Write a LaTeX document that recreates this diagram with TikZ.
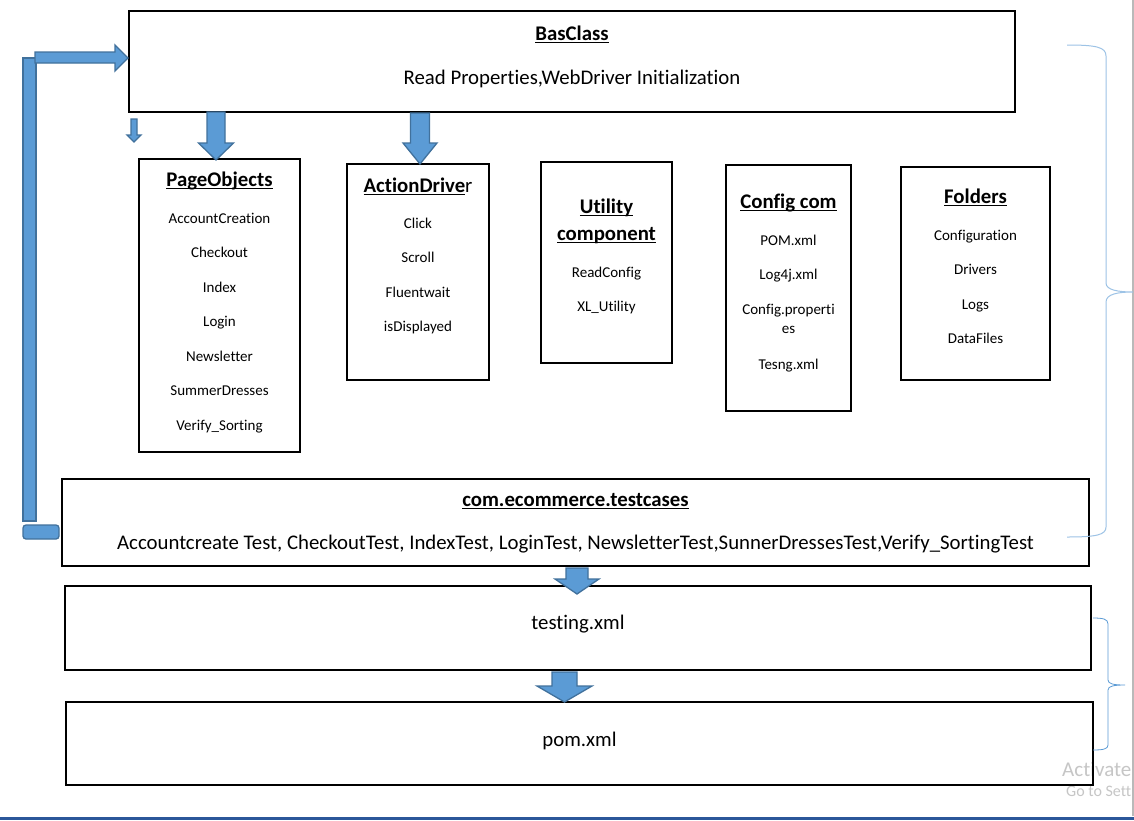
\documentclass[tikz,border=0pt]{standalone}
\usepackage{fontspec}
\setmainfont{Carlito}[Ligatures=CommonOff]
\usetikzlibrary{calc}
\definecolor{arrfill}{HTML}{5B9BD5}
\definecolor{arredge}{HTML}{41719C}
\definecolor{bracelight}{HTML}{9DC3E6}
\definecolor{bracemid}{HTML}{5B9BD5}
\definecolor{barblue}{HTML}{2B579A}
\newsavebox\ulbox
\newcommand\uline[1]{\sbox\ulbox{#1}\rlap{\usebox\ulbox}\rule[-2.6pt]{\wd\ulbox}{1.4pt}}
\newcommand\bdown[6]{% x, ytop, ytip, shaft half width, head half width, head start y
  \draw[barrow] (#1-#4,#2) -- (#1+#4,#2) -- (#1+#4,#6) -- (#1+#5,#6) -- (#1,#3)
    -- (#1-#5,#6) -- (#1-#4,#6) -- cycle;}
\tikzset{
  box/.style={draw=black, line width=2.2pt, inner sep=0pt},
  barrow/.style={fill=arrfill, draw=arredge, line width=1.3pt, line join=miter},
  item/.style={font=\fontsize{15}{17}\selectfont, anchor=mid, inner sep=0pt, yshift=-3pt},
  big/.style={font=\fontsize{20.8}{24}\selectfont, anchor=mid, inner sep=0pt, yshift=-5.5pt},
  ttl/.style={font=\fontsize{20.8}{24}\selectfont\bfseries, anchor=mid, inner sep=0pt, yshift=-4.5pt},
  wmark/.style={anchor=base west, inner sep=0pt, text=gray!45},
  brace/.style={line width=1pt}
}
\begin{document}
\begin{tikzpicture}[x=1pt,y=-1pt]
\useasboundingbox (0,0) rectangle (1134,820);
\fill[white] (0,0) rectangle (1134,820);

% watermark
\node[wmark, font=\fontsize{21}{23}\selectfont] (wm1) at (1062,776) {Activate};
\node[wmark, font=\fontsize{16}{18}\selectfont] (wm2) at (1066,796) {Go to Sett};

% window edges
\draw[gray!55, line width=1.5pt] (1133,0) -- (1133,816);
\fill[barblue] (0,817) rectangle (1134,820);

% boxes
\node[box, minimum width=886pt, minimum height=101pt] (bas) at (572,61.5) {};
\node[box, minimum width=161pt, minimum height=293pt] (po) at (219.5,305.5) {};
\node[box, minimum width=142pt, minimum height=216pt] (ad) at (418,272) {};
\node[box, minimum width=131pt, minimum height=201pt] (ut) at (606.5,262.5) {};
\node[box, minimum width=125pt, minimum height=246pt] (cf) at (788.5,288) {};
\node[box, minimum width=149pt, minimum height=213pt] (fo) at (975.5,273.5) {};
\node[box, minimum width=1027pt, minimum height=87pt] (tc) at (575.5,522.5) {};
\node[box, minimum width=1026pt, minimum height=84pt] (tx) at (578,628) {};
\node[box, minimum width=1027pt, minimum height=83pt] (pm) at (579.5,743.5) {};

% BasClass texts
\node[ttl] (basT) at (bas.north |- 0,34) {\uline{BasClass}};
\node[big] (basS) at (bas.north |- 0,77) {Read Properties,WebDriver Initialization};

% PageObjects
\node[ttl] (poT) at (po.north |- 0,180) {\uline{PageObjects}};
\node[item] (po1) at (po.north |- 0,218) {AccountCreation};
\node[item] (po2) at (po.north |- 0,252) {Checkout};
\node[item] (po3) at (po.north |- 0,287) {Index};
\node[item] (po4) at (po.north |- 0,321) {Login};
\node[item] (po5) at (po.north |- 0,356) {Newsletter};
\node[item] (po6) at (po.north |- 0,390) {SummerDresses};
\node[item] (po7) at (po.north |- 0,425) {Verify\_Sorting};

% ActionDriver
\node[ttl] (adT) at (ad.north |- 0,186) {\uline{ActionDrive}\mdseries r};
\node[item] (ad1) at (ad.north |- 0,223) {Click};
\node[item] (ad2) at (ad.north |- 0,257) {Scroll};
\node[item] (ad3) at (ad.north |- 0,292) {Fluentwait};
\node[item] (ad4) at (ad.north |- 0,326) {isDisplayed};

% Utility component
\node[ttl] (utT1) at (ut.north |- 0,207) {\uline{Utility}};
\node[ttl] (utT2) at (ut.north |- 0,234) {\uline{component}};
\node[item] (ut1) at (ut.north |- 0,272) {ReadConfig};
\node[item] (ut2) at (ut.north |- 0,306) {XL\_Utility};

% Config com
\node[ttl] (cfT) at (cf.north |- 0,202) {\uline{Config com}};
\node[item] (cf1) at (cf.north |- 0,240) {POM.xml};
\node[item] (cf2) at (cf.north |- 0,274) {Log4j.xml};
\node[item] (cf3) at (cf.north |- 0,309) {Config.properti};
\node[item] (cf3b) at (cf.north |- 0,328) {es};
\node[item] (cf4) at (cf.north |- 0,364) {Tesng.xml};

% Folders
\node[ttl] (foT) at (fo.north |- 0,197) {\uline{Folders}};
\node[item] (fo1) at (fo.north |- 0,235) {Configuration};
\node[item] (fo2) at (fo.north |- 0,269) {Drivers};
\node[item] (fo3) at (fo.north |- 0,304) {Logs};
\node[item] (fo4) at (fo.north |- 0,338) {DataFiles};

% testcases
\node[ttl] (tcT) at (tc.north |- 0,500) {\uline{com.ecommerce.testcases}};
\node[big] (tcS) at (tc.north |- 0,542) {Accountcreate Test, CheckoutTest, IndexTest, LoginTest, NewsletterTest,SunnerDressesTest,Verify\_SortingTest};
\node[big] (txT) at (tx.north |- 0,622) {testing.xml};
\node[big] (pmT) at (pm.north |- 0,739) {pom.xml};

% block arrows
\bdown{216}{112}{160}{9}{17.5}{143}
\bdown{420}{113}{164}{9.5}{17}{143}
\bdown{134}{119}{142}{3}{7}{135}
\bdown{577}{568}{594}{11}{22}{579}
\bdown{564.5}{672}{702}{12.5}{27.5}{686}

% feedback arrow on the left
\draw[barrow] (23,58) rectangle (36,521);
\draw[barrow] (35,52) -- (115,52) -- (115,45) -- (128,58) -- (115,71) -- (115,63) -- (35,63) -- cycle;
\draw[barrow, rounded corners=3pt] (23,525) rectangle (59,539);

% braces
\draw[brace, bracelight] (1067,45) .. controls (1096,45) and (1106,47) .. (1106,56)
  -- (1106,283) .. controls (1106,290) and (1118,292) .. (1133,292)
  .. controls (1118,292) and (1106,294) .. (1106,302)
  -- (1106,527) .. controls (1106,535) and (1096,537) .. (1067,537);
\draw[brace, bracemid, line width=0.8pt] (1093,618) .. controls (1103,618) and (1108,619) .. (1108,624)
  -- (1108,680) .. controls (1108,684) and (1114,685) .. (1125,685)
  .. controls (1114,685) and (1108,686) .. (1108,690)
  -- (1108,745) .. controls (1108,749) and (1103,750) .. (1093,750);
\end{tikzpicture}
\end{document}
